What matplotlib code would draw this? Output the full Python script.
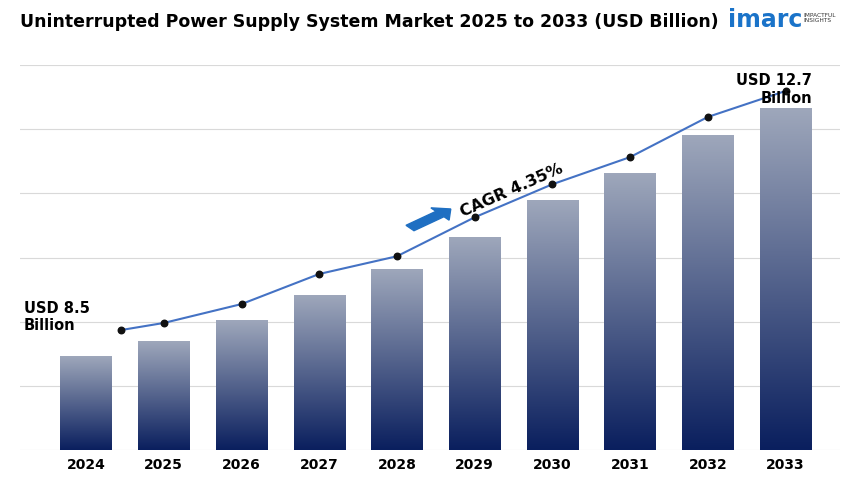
import numpy as np
import matplotlib
matplotlib.use("Agg")
import matplotlib.pyplot as plt
from matplotlib.patches import FancyArrow
from matplotlib.colors import LinearSegmentedColormap

years = ["2024","2025","2026","2027","2028","2029","2030","2031","2032","2033"]
bar_values = [8.5, 8.75, 9.11, 9.53, 9.97, 10.50, 11.14, 11.60, 12.23, 12.7]
line_values = [8.94, 9.06, 9.38, 9.89, 10.19, 10.85, 11.41, 11.87, 12.55, 12.99]
line_pos = [0.45, 1, 2, 3, 4, 5, 6, 7, 8, 9]

W, H = 853, 479
fig = plt.figure(figsize=(W/100, H/100), dpi=100)
ax = fig.add_axes([20/W, 1-450/H, 820/W, 385/H])
ymin, ymax = 6.908, 6.908 + 385*0.01694
for y in np.linspace(ymin, ymax, 7):
    ax.axhline(y, color="#d9d9d9", lw=0.8, zorder=0)

grad = np.linspace(0, 1, 256).reshape(-1, 1)
cmap = LinearSegmentedColormap.from_list("g", ["#0a1f5e", "#9ea7bb"])
bw = 0.66
for i, v in enumerate(bar_values):
    ax.imshow(grad, extent=[i-bw/2, i+bw/2, ymin, v], origin="lower",
              cmap=cmap, aspect="auto", zorder=2, vmin=0, vmax=1)
ax.set_aspect("auto")
ax.set_xlim(-0.85, 9.7)
ax.set_ylim(ymin, ymax)

ax.plot(line_pos, line_values, color="#4472c4", lw=1.5, zorder=3)
ax.scatter(line_pos, line_values, color="#111111", s=22, zorder=4)

ax.set_xticks(range(len(years)))
ax.set_xticklabels(years, fontweight="bold", fontsize=10)
ax.tick_params(length=0, pad=6)
ax.set_yticks([])
for s in ax.spines.values():
    s.set_visible(False)

ax.text(-0.8, line_values[0]-0.05, "USD 8.5\nBillion", fontsize=10.5, fontweight="bold", ha="left", va="bottom")
ax.text(9.34, line_values[-1]-0.25, "USD 12.7\nBillion", fontsize=10.5, fontweight="bold",
        ha="right", va="bottom", multialignment="right", zorder=5)

fig.text(20/W, 1-22/H, "Uninterrupted Power Supply System Market 2025 to 2033 (USD Billion)",
         fontsize=12.5, fontweight="bold", va="center")
fig.text(728/W, 1-20/H, "imarc", fontsize=17, color="#1a73c9", va="center", fontweight="bold")
fig.text(803/W, 1-18/H, "IMPACTFUL\nINSIGHTS", fontsize=4.2, color="#333333", va="center", linespacing=1.1)

fig.patches.append(FancyArrow(410/W, 1-228/H, 30/W, 14/H, width=7/H, head_width=16/H,
                              head_length=14/W, color="#1f6fc2", transform=fig.transFigure))
fig.text(458/W, 1-190/H, "CAGR 4.35%", fontsize=11.5, fontweight="bold", rotation=24,
         ha="left", va="center")

fig.savefig("out.png", dpi=100)
